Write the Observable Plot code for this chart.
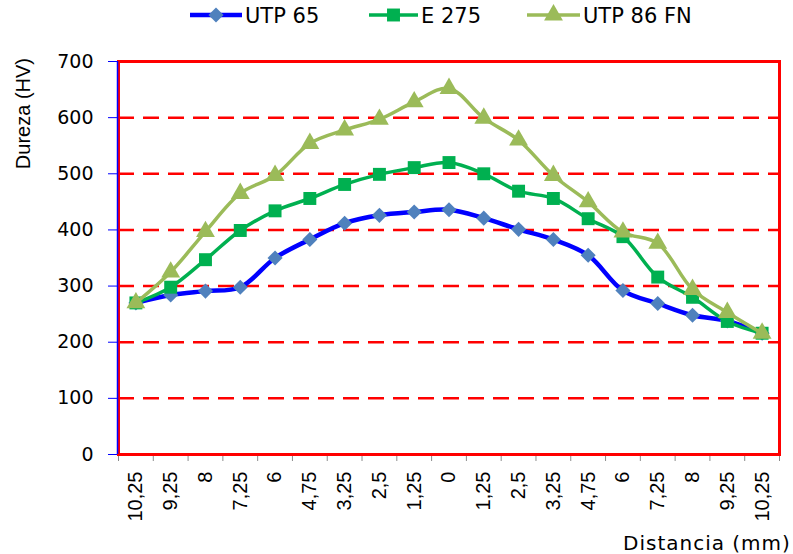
<!DOCTYPE html>
<html>
<head>
<meta charset="utf-8">
<script src="https://cdn.jsdelivr.net/npm/d3@7"></script>
<script src="https://cdn.jsdelivr.net/npm/@observablehq/plot@0.6"></script>
<style>
  html, body { margin: 0; padding: 0; background: #fff; }
  #chart { position: relative; width: 793px; height: 554px; }
</style>
</head>
<body>
<div id="chart"></div>
<script>
// Categories (distance in mm, both sides of the weld centre)
const labels = ["10,25","9,25","8","7,25","6","4,75","3,25","2,5","1,25","0","1,25","2,5","3,25","4,75","6","7,25","8","9,25","10,25"];
const yTicks = [0, 100, 200, 300, 400, 500, 600, 700];
const gridValues = [100, 200, 300, 400, 500, 600];

// Hardness (HV) series
const utp65 = [270, 284, 291, 298, 350, 383, 412, 426, 432, 436, 421, 401, 383, 355, 292, 269, 248, 238, 216];
const e275  = [270, 298, 347, 399, 434, 456, 481, 499, 511, 520, 500, 469, 456, 420, 388, 316, 280, 237, 216];
const utp86 = [270, 325, 397, 465, 497, 554, 578, 597, 628, 652, 599, 560, 497, 450, 396, 376, 294, 253, 216];

const seriesNames = ["UTP 65", "E 275", "UTP 86 FN"];
const seriesValues = [utp65, e275, utp86];
const lineColors = ["#0000ff", "#00b050", "#9bbb59"];
const markerColors = ["#4f81bd", "#00b050", "#9bbb59"];
const symbols = ["diamond2", "square", "triangle"];
const markerR = [6.8, 7.3, 7];
const lineWidths = [4.5, 3.5, 3.5];

const rows = seriesValues.map(vals => vals.map((v, i) => ({i, v})));

const seriesMarks = [];
rows.forEach((data, k) => {
  seriesMarks.push(Plot.line(data, {x: "i", y: "v", stroke: lineColors[k], strokeWidth: lineWidths[k], curve: "catmull-rom"}));
  seriesMarks.push(Plot.dot(data, {x: "i", y: "v", symbol: () => symbols[k], r: markerR[k], fill: markerColors[k], stroke: "none"}));
});

const plot = Plot.plot({
  width: 793,
  height: 554,
  marginLeft: 118,
  marginRight: 14,
  marginTop: 61,
  marginBottom: 100,
  style: {fontFamily: "'Liberation Sans', Arial, sans-serif", background: "#fff"},
  x: {type: "linear", domain: [-0.5, 18.5], label: null},
  y: {domain: [0, 700], label: null},
  symbol: {type: "identity"},
  marks: [
    Plot.ruleY(gridValues, {stroke: "#ff0000", strokeWidth: 2.5, strokeDasharray: "16,9"}),
    Plot.axisY({ticks: yTicks, tickSize: 10, tickPadding: 15, stroke: "#0000ff", fontFamily: "'DejaVu Sans', sans-serif", fontSize: 19, label: null}),
    Plot.axisX({ticks: d3.range(-0.5, 19, 1), tickSize: 7, tickFormat: () => "", stroke: "#8c8c8c", label: null}),
    Plot.axisX({ticks: d3.range(labels.length), tickSize: 0, tickPadding: 17, tickRotate: -90, tickFormat: i => labels[i], fontFamily: "'Liberation Sans', Arial, sans-serif", fontSize: 20, label: null}),
    Plot.frame({stroke: "#ff0000", strokeWidth: 3}),
    Plot.ruleX([-0.5], {stroke: "#0000ff", strokeWidth: 1.5, dx: -1}),
    ...seriesMarks
  ]
});

document.getElementById("chart").appendChild(plot);

// Titles and legend drawn into the same SVG
const svg = d3.select(plot.tagName.toLowerCase() === "svg" ? plot : plot.querySelector("svg"));

svg.append("text")
  .attr("transform", "translate(30,58) rotate(-90)")
  .attr("text-anchor", "end")
  .attr("font-family", "'Liberation Sans', Arial, sans-serif")
  .attr("font-size", 20)
  .attr("fill", "#000")
  .text("Dureza (HV)");

svg.append("text")
  .attr("x", 623)
  .attr("y", 550)
  .attr("text-anchor", "start")
  .attr("font-family", "'DejaVu Sans', sans-serif")
  .attr("font-size", 20)
  .attr("letter-spacing", 1)
  .attr("fill", "#000")
  .text("Distancia (mm)");

const legendItems = [
  {x1: 190, x2: 242, text: 245},
  {x1: 369, x2: 418, text: 421},
  {x1: 527, x2: 580, text: 583}
];
const d3Symbols = {diamond2: d3.symbolDiamond2, square: d3.symbolSquare, triangle: d3.symbolTriangle};
legendItems.forEach((it, k) => {
  const g = svg.append("g");
  g.append("line")
    .attr("x1", it.x1).attr("x2", it.x2).attr("y1", 15).attr("y2", 15)
    .attr("stroke", lineColors[k]).attr("stroke-width", lineWidths[k]);
  g.append("path")
    .attr("transform", `translate(${(it.x1 + it.x2) / 2},15)`)
    .attr("d", d3.symbol(d3Symbols[symbols[k]], Math.PI * markerR[k] * markerR[k])())
    .attr("fill", markerColors[k]);
  g.append("text")
    .attr("x", it.text).attr("y", 23)
    .attr("text-anchor", "start")
    .attr("font-family", "'DejaVu Sans', sans-serif")
    .attr("font-size", 21)
    .attr("fill", "#000")
    .text(seriesNames[k]);
});
</script>
</body>
</html>
